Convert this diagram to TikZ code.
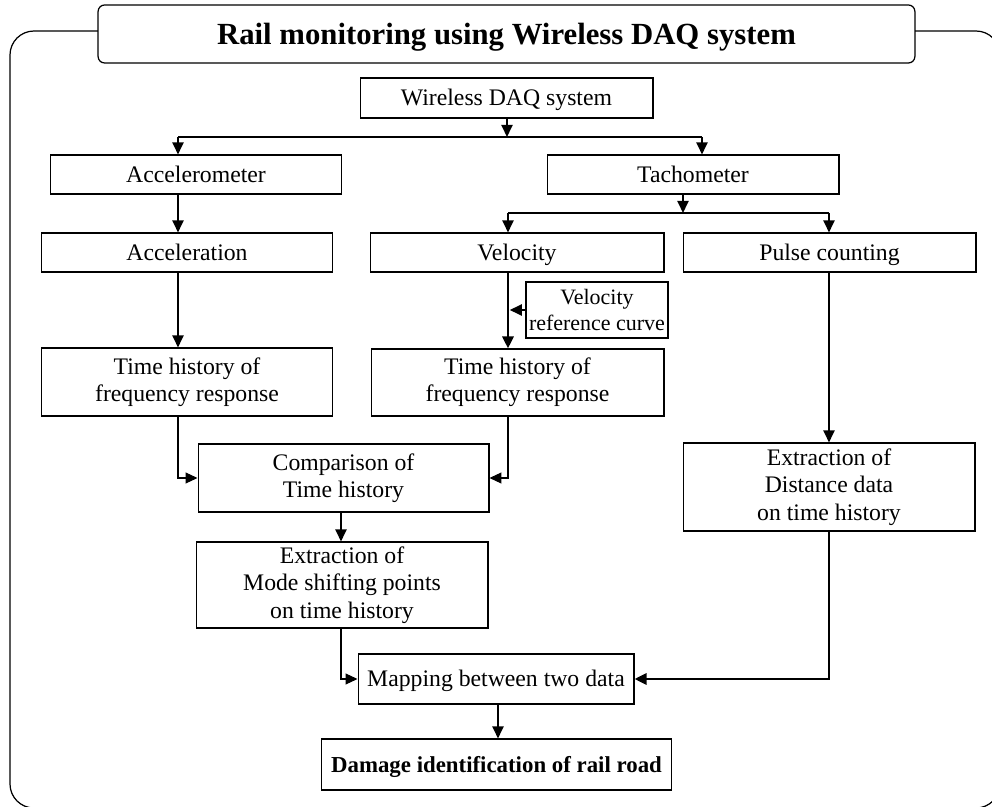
\documentclass[tikz,border=0pt]{standalone}
\usepackage{fontspec}
\setmainfont{Liberation Serif}
\usetikzlibrary{arrows.meta,positioning}
\begin{document}
\begin{tikzpicture}[x=0.02cm,y=-0.02cm] % 1 unit = 1 px of the picture
\tikzstyle{mybox} = [draw, rectangle, fill=white, inner sep=0pt, align=center, line width=0.6pt, font=\fontsize{13.5}{15.5}\selectfont] % plain box
\tikzstyle{myone} = [mybox, text height=10.5pt, text depth=1.6pt] % box with one line of text
\tikzstyle{mytitle} = [draw, rectangle, rounded corners=0.13cm, fill=white, inner sep=0pt, line width=0.7pt, text height=13.5pt, text depth=2pt, font=\fontsize{17.5}{20}\selectfont\bfseries] % title box
\tikzstyle{myarrow} = [line width=1.1pt, -{Triangle[length=0.24cm,width=0.22cm]}] % arrow
\tikzstyle{mythick} = [line width=1.7pt, -{Triangle[length=0.24cm,width=0.22cm]}] % thick arrow
\tikzstyle{mythin} = [line width=0.6pt, -{Triangle[length=0.24cm,width=0.22cm]}] % thin arrow
\tikzstyle{myline} = [line width=0.6pt] % branch line

\useasboundingbox (0,0) rectangle (992,807);
\clip (0,0) rectangle (992,807);
\draw[line width=0.7pt, rounded corners=0.48cm] (10,31) rectangle (1000,808); % outer frame

\node[mytitle, minimum width=16.34cm, minimum height=1.16cm] (title) at (506.5,34) {Rail monitoring using Wireless DAQ system};

% boxes
\node[myone, minimum width=5.86cm, minimum height=0.8cm] (daq) at (506.5,98) {Wireless DAQ system};
\node[myone, minimum width=5.84cm, minimum height=0.78cm] (accel) at (196,174.5) {Accelerometer};
\node[myone, minimum width=5.84cm, minimum height=0.78cm] (tacho) at (693,174.5) {Tachometer};
\node[myone, minimum width=5.84cm, minimum height=0.78cm] (accn) at (187,252.5) {Acceleration};
\node[myone, minimum width=5.88cm, minimum height=0.78cm] (vel) at (517,252.5) {Velocity};
\node[myone, minimum width=5.86cm, minimum height=0.78cm] (pulse) at (829.5,252.5) {Pulse counting};
\node[mybox, minimum width=2.84cm, minimum height=1.12cm, font=\fontsize{12.5}{14.5}\selectfont] (vref) at (597,310) {Velocity\\reference curve};
\node[mybox, minimum width=5.84cm, minimum height=1.36cm] (thl) at (187,382) {Time history of\\frequency response};
\node[mybox, minimum width=5.86cm, minimum height=1.34cm] (thm) at (517.5,382.5) {Time history of\\frequency response};
\node[mybox, minimum width=5.82cm, minimum height=1.36cm] (comp) at (343.5,478) {Comparison of\\Time history};
\node[mybox, minimum width=5.84cm, minimum height=1.72cm] (extm) at (342,585) {Extraction of\\Mode shifting points\\on time history};
\node[mybox, minimum width=5.84cm, minimum height=1.76cm] (extd) at (829,487) {Extraction of\\Distance data\\on time history};
\node[myone, minimum width=5.52cm, minimum height=1.0cm] (map) at (496,679) {Mapping between two data};
\node[myone, minimum width=7.02cm, minimum height=1.02cm, font=\fontsize{13}{15}\selectfont\bfseries] (dmg) at (496.5,764.5) {Damage identification of rail road};

% columns of the connectors
\coordinate (colA) at (178,0);
\coordinate (colV) at (508,0);
\coordinate (colP) at (829,0);
\coordinate (colC) at (341,0);
\coordinate (colM) at (498,0);
\coordinate (colT) at (702,0);
\coordinate (b1) at (507,137); % first branching
\coordinate (b2) at (683,213); % second branching

\draw[myline] (b1 -| colA) -- (b1 -| colT);
\draw[myarrow] (daq.south -| b1) -- (b1);
\draw[myarrow] (b1 -| colA) -- (accel.north -| colA);
\draw[myarrow] (b1 -| colT) -- (tacho.north -| colT);

\draw[myline] (b2 -| colV) -- (b2 -| colP);
\draw[myarrow] (tacho.south -| b2) -- (b2);
\draw[myarrow] (b2 -| colV) -- (vel.north -| colV);
\draw[myarrow] (b2 -| colP) -- (pulse.north -| colP);

\draw[myarrow] (accel.south -| colA) -- (accn.north -| colA);
\draw[myarrow] (accn.south -| colA) -- (thl.north -| colA);
\draw[mythick] (vel.south -| colV) -- (thm.north -| colV);
\draw[myarrow] (vref.west) -- ([xshift=1pt]vref.west -| colV);
\draw[myarrow] (pulse.south -| colP) -- (extd.north -| colP);

\draw[mythin] (thl.south -| colA) |- (comp.west);
\draw[mythin] (thm.south -| colV) |- (comp.east);
\draw[myarrow] (comp.south -| colC) -- (extm.north -| colC);
\draw[mythin] (extm.south -| colC) |- (map.west);
\draw[mythick] (extd.south -| colP) |- (map.east);
\draw[myarrow] (map.south -| colM) -- (dmg.north -| colM);
\end{tikzpicture}
\end{document}
